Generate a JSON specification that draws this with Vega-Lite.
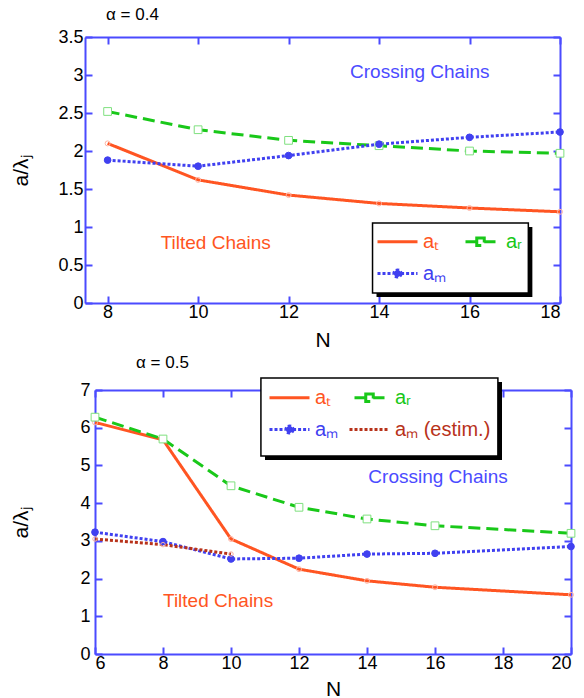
{
  "$schema": "https://vega.github.io/schema/vega-lite/v6.json",
  "padding": {"left": 10, "top": 6, "right": 0, "bottom": 0},
  "spacing": 4,
  "config": {
    "font": "Liberation Sans",
    "view": {"stroke": null},
    "axis": {
      "domainColor": "#4B4BFF", "tickColor": "#4B4BFF", "domainWidth": 2, "tickWidth": 2,
      "tickSize": -7, "grid": false, "labelFontSize": 18, "labelColor": "black",
      "titleFontSize": 21, "titleFontWeight": "normal", "titleColor": "black",
      "labelFont": "Liberation Sans", "titleFont": "Liberation Sans", "labelPadding": 5, "format": "~g"
    },
    "axisX": {"titlePadding": 8},
    "title": {"fontSize": 17, "fontWeight": "normal", "font": "Liberation Sans", "color": "black", "anchor": "start", "frame": "group"}
  },
  "datasets": {
    "top": [
      {"s": "aₜ", "N": 8, "v": 2.10}, {"s": "aₜ", "N": 10, "v": 1.62}, {"s": "aₜ", "N": 12, "v": 1.42},
      {"s": "aₜ", "N": 14, "v": 1.31}, {"s": "aₜ", "N": 16, "v": 1.25}, {"s": "aₜ", "N": 18, "v": 1.20},
      {"s": "aᵣ", "N": 8, "v": 2.52}, {"s": "aᵣ", "N": 10, "v": 2.28}, {"s": "aᵣ", "N": 12, "v": 2.14},
      {"s": "aᵣ", "N": 14, "v": 2.07}, {"s": "aᵣ", "N": 16, "v": 2.00}, {"s": "aᵣ", "N": 18, "v": 1.97},
      {"s": "aₘ", "N": 8, "v": 1.88}, {"s": "aₘ", "N": 10, "v": 1.80}, {"s": "aₘ", "N": 12, "v": 1.94},
      {"s": "aₘ", "N": 14, "v": 2.09}, {"s": "aₘ", "N": 16, "v": 2.18}, {"s": "aₘ", "N": 18, "v": 2.25}
    ],
    "bottom": [
      {"s": "aₜ", "N": 6, "v": 6.14}, {"s": "aₜ", "N": 8, "v": 5.68}, {"s": "aₜ", "N": 10, "v": 3.05},
      {"s": "aₜ", "N": 12, "v": 2.25}, {"s": "aₜ", "N": 14, "v": 1.94}, {"s": "aₜ", "N": 16, "v": 1.77},
      {"s": "aₜ", "N": 20, "v": 1.57},
      {"s": "aᵣ", "N": 6, "v": 6.28}, {"s": "aᵣ", "N": 8, "v": 5.70}, {"s": "aᵣ", "N": 10, "v": 4.46},
      {"s": "aᵣ", "N": 12, "v": 3.89}, {"s": "aᵣ", "N": 14, "v": 3.58}, {"s": "aᵣ", "N": 16, "v": 3.40},
      {"s": "aᵣ", "N": 20, "v": 3.20},
      {"s": "aₘ", "N": 6, "v": 3.23}, {"s": "aₘ", "N": 8, "v": 2.98}, {"s": "aₘ", "N": 10, "v": 2.52},
      {"s": "aₘ", "N": 12, "v": 2.54}, {"s": "aₘ", "N": 14, "v": 2.65}, {"s": "aₘ", "N": 16, "v": 2.67},
      {"s": "aₘ", "N": 20, "v": 2.85},
      {"s": "aₘ (estim.)", "N": 6, "v": 3.05}, {"s": "aₘ (estim.)", "N": 8, "v": 2.90}, {"s": "aₘ (estim.)", "N": 10, "v": 2.65}
    ]
  },
  "resolve": {"scale": {"color": "independent", "strokeDash": "independent", "strokeWidth": "independent", "x": "independent", "y": "independent"}, "legend": {"color": "independent", "strokeDash": "independent", "strokeWidth": "independent"}},
  "vconcat": [
    {
      "width": 465, "height": 266,
      "title": {"text": "α = 0.4", "dx": 11, "offset": 4},
      "data": {"name": "top"},
      "resolve": {"axis": {"x": "independent", "y": "independent"}},
      "layer": [
        {
          "data": {"values": [{}]},
          "mark": {"type": "rect", "fill": "black"},
          "encoding": {
            "x": {"datum": 13.944, "type": "quantitative", "axis": null}, "x2": {"datum": 17.389},
            "y": {"datum": 1.0, "type": "quantitative", "axis": null}, "y2": {"datum": 0.079}
          }
        },
        {
          "data": {"values": [{}]},
          "mark": {"type": "rect", "fill": "white", "stroke": "black", "strokeWidth": 1.5},
          "encoding": {
            "x": {"datum": 13.856, "type": "quantitative", "axis": null}, "x2": {"datum": 17.3},
            "y": {"datum": 1.053, "type": "quantitative", "axis": null}, "y2": {"datum": 0.132}
          }
        },
        {
          "mark": {"type": "line"},
          "encoding": {
            "x": {"field": "N", "type": "quantitative", "scale": {"domain": [7.5, 18], "range": [-10, 465], "nice": false, "zero": false},
                  "axis": {"values": [8, 10, 12, 14, 16, 18], "title": "N", "labelPadding": 7}},
            "y": {"field": "v", "type": "quantitative", "scale": {"domain": [0, 3.5], "nice": false},
                  "axis": {"values": [0, 0.5, 1, 1.5, 2, 2.5, 3, 3.5], "title": "a/λⱼ", "titlePadding": 26, "labelPadding": 9, "offset": 10}},
            "color": {"field": "s", "type": "nominal",
                      "scale": {"domain": ["aₜ", "aᵣ", "aₘ"], "range": ["#FF5522", "#19C819", "#4040F0"]},
                      "legend": {"orient": "none", "legendX": 281, "legendY": 183, "columns": 2, "direction": "horizontal", "title": null,
                                 "zindex": 1,
                                 "labelFontSize": 20, "labelFont": "Liberation Sans", "symbolType": "stroke",
                                 "symbolSize": 1600, "symbolStrokeWidth": 3, "rowPadding": -8, "columnPadding": 12,
                                 "padding": 0, "labelOffset": 4,
                                 "encode": {
                                   "labels": {"update": {"fill": {"signal": "datum.value === 'aₜ' ? '#FF5522' : datum.value === 'aᵣ' ? '#19C819' : datum.value === 'aₘ' ? '#4040F0' : '#B8321A'"}}},
                                   "symbols": {"update": {
                                     "shape": {"signal": "datum.value === 'aᵣ' ? 'M-1,0H-0.25M0.25,0H1M-0.25,-0.25H0.25V0.25H-0.25Z' : datum.value === 'aₘ' ? 'M-1,0H-0.18M0.18,0H1M0.18,0A0.18,0.18,0,1,1,-0.18,0A0.18,0.18,0,1,1,0.18,0Z' : 'stroke'"},
                                     "size": {"signal": "datum.value === 'aᵣ' ? 900 : 1600"},
                                     "fill": {"signal": "datum.value === 'aᵣ' ? 'white' : datum.value === 'aₘ' ? '#4040F0' : 'transparent'"},
                                     "strokeDash": {"signal": "datum.value === 'aᵣ' ? [8, 4] : datum.value === 'aₜ' ? [1, 0] : [3, 2]"},
                                     "opacity": {"value": 1}
                                   }}
                                 }}},
            "strokeDash": {"field": "s", "type": "nominal",
                           "scale": {"domain": ["aₜ", "aᵣ", "aₘ"], "range": [[1, 0], [12, 6], [3, 2]]}},
            "strokeWidth": {"field": "s", "type": "ordinal",
                            "scale": {"domain": ["aₜ", "aᵣ", "aₘ"], "range": [3, 3, 3]}}
          }
        },
        {
          "transform": [{"filter": "datum.s === 'aₜ'"}],
          "mark": {"type": "point", "shape": "circle", "size": 25, "strokeWidth": 1, "stroke": "#FFB5A5", "fill": "transparent", "opacity": 1},
          "encoding": {
            "x": {"field": "N", "type": "quantitative", "axis": {"orient": "top", "labels": false, "title": null, "values": [8, 10, 12, 14, 16, 18]}},
            "y": {"field": "v", "type": "quantitative", "axis": {"orient": "right", "labels": false, "title": null, "values": [0, 0.5, 1, 1.5, 2, 2.5, 3, 3.5]}}
          }
        },
        {
          "transform": [{"filter": "datum.s === 'aᵣ'"}],
          "mark": {"type": "point", "shape": "square", "size": 60, "strokeWidth": 1, "stroke": "#7FE07F", "fill": "white", "opacity": 1},
          "encoding": {
            "x": {"field": "N", "type": "quantitative", "axis": null},
            "y": {"field": "v", "type": "quantitative", "axis": null}
          }
        },
        {
          "transform": [{"filter": "datum.s === 'aₘ'"}],
          "mark": {"type": "point", "shape": "circle", "size": 45, "strokeWidth": 1, "stroke": "#4040F0", "fill": "#4040F0", "opacity": 1},
          "encoding": {
            "x": {"field": "N", "type": "quantitative", "axis": null},
            "y": {"field": "v", "type": "quantitative", "axis": null}
          }
        },
        {
          "data": {"values": [{}]},
          "mark": {"type": "text", "text": "Crossing Chains", "fontSize": 19, "color": "#4B4BFF", "font": "Liberation Sans"},
          "encoding": {"x": {"datum": 14.9, "type": "quantitative", "axis": null}, "y": {"datum": 3.04, "type": "quantitative", "axis": null}}
        },
        {
          "data": {"values": [{}]},
          "mark": {"type": "text", "text": "Tilted Chains", "fontSize": 19, "color": "#FF5522", "font": "Liberation Sans"},
          "encoding": {"x": {"datum": 10.39, "type": "quantitative", "axis": null}, "y": {"datum": 0.79, "type": "quantitative", "axis": null}}
        }
      ]
    },
    {
      "width": 476, "height": 264,
      "title": {"text": "α = 0.5", "dx": 41, "offset": 4},
      "data": {"name": "bottom"},
      "resolve": {"axis": {"x": "independent", "y": "independent"}},
      "layer": [
        {
          "data": {"values": [{}]},
          "mark": {"type": "rect", "fill": "black"},
          "encoding": {
            "x": {"datum": 11.0, "type": "quantitative", "axis": null}, "x2": {"datum": 17.97},
            "y": {"datum": 7.213, "type": "quantitative", "axis": null}, "y2": {"datum": 5.145}
          }
        },
        {
          "data": {"values": [{}]},
          "mark": {"type": "rect", "fill": "white", "stroke": "black", "strokeWidth": 1.5},
          "encoding": {
            "x": {"datum": 10.88, "type": "quantitative", "axis": null}, "x2": {"datum": 17.85},
            "y": {"datum": 7.319, "type": "quantitative", "axis": null}, "y2": {"datum": 5.25}
          }
        },
        {
          "mark": {"type": "line"},
          "encoding": {
            "x": {"field": "N", "type": "quantitative", "scale": {"domain": [6, 20], "nice": false, "zero": false},
                  "axis": {"values": [6, 8, 10, 12, 14, 16, 18, 20], "title": "N", "labelPadding": 7, "titlePadding": 6}},
            "y": {"field": "v", "type": "quantitative", "scale": {"domain": [0, 7], "nice": false},
                  "axis": {"values": [0, 1, 2, 3, 4, 5, 6, 7], "title": "a/λⱼ", "titlePadding": 48, "labelPadding": 12}},
            "color": {"field": "s", "type": "nominal",
                      "scale": {"domain": ["aₜ", "aᵣ", "aₘ", "aₘ (estim.)"], "range": ["#FF5522", "#19C819", "#4040F0", "#B8321A"]},
                      "legend": {"orient": "none", "legendX": 173, "legendY": -14, "columns": 2, "direction": "horizontal", "title": null,
                                 "zindex": 1,
                                 "labelFontSize": 20, "labelFont": "Liberation Sans", "symbolType": "stroke",
                                 "symbolSize": 1600, "symbolStrokeWidth": 3, "rowPadding": -2, "columnPadding": 4,
                                 "padding": 0, "labelOffset": 4,
                                 "encode": {
                                   "labels": {"update": {"fill": {"signal": "datum.value === 'aₜ' ? '#FF5522' : datum.value === 'aᵣ' ? '#19C819' : datum.value === 'aₘ' ? '#4040F0' : '#B8321A'"}}},
                                   "symbols": {"update": {
                                     "shape": {"signal": "datum.value === 'aᵣ' ? 'M-1,0H-0.25M0.25,0H1M-0.25,-0.25H0.25V0.25H-0.25Z' : datum.value === 'aₘ' ? 'M-1,0H-0.18M0.18,0H1M0.18,0A0.18,0.18,0,1,1,-0.18,0A0.18,0.18,0,1,1,0.18,0Z' : 'stroke'"},
                                     "size": {"signal": "datum.value === 'aᵣ' ? 900 : 1600"},
                                     "fill": {"signal": "datum.value === 'aᵣ' ? 'white' : datum.value === 'aₘ' ? '#4040F0' : 'transparent'"},
                                     "strokeDash": {"signal": "datum.value === 'aᵣ' ? [8, 4] : datum.value === 'aₜ' ? [1, 0] : [3, 2]"},
                                     "opacity": {"value": 1}
                                   }}
                                 }}},
            "strokeDash": {"field": "s", "type": "nominal",
                           "scale": {"domain": ["aₜ", "aᵣ", "aₘ", "aₘ (estim.)"], "range": [[1, 0], [12, 6], [3, 2], [3, 2]]}},
            "strokeWidth": {"field": "s", "type": "ordinal",
                            "scale": {"domain": ["aₜ", "aᵣ", "aₘ", "aₘ (estim.)"], "range": [3, 3, 3, 2]}}
          }
        },
        {
          "transform": [{"filter": "datum.s === 'aₜ'"}],
          "mark": {"type": "point", "shape": "circle", "size": 25, "strokeWidth": 1, "stroke": "#FFB5A5", "fill": "transparent", "opacity": 1},
          "encoding": {
            "x": {"field": "N", "type": "quantitative", "axis": {"orient": "top", "labels": false, "title": null, "values": [6, 8, 10, 12, 14, 16, 18, 20]}},
            "y": {"field": "v", "type": "quantitative", "axis": {"orient": "right", "labels": false, "title": null, "values": [0, 1, 2, 3, 4, 5, 6, 7]}}
          }
        },
        {
          "transform": [{"filter": "datum.s === 'aᵣ'"}],
          "mark": {"type": "point", "shape": "square", "size": 60, "strokeWidth": 1, "stroke": "#7FE07F", "fill": "white", "opacity": 1},
          "encoding": {
            "x": {"field": "N", "type": "quantitative", "axis": null},
            "y": {"field": "v", "type": "quantitative", "axis": null}
          }
        },
        {
          "transform": [{"filter": "datum.s === 'aₘ'"}],
          "mark": {"type": "point", "shape": "circle", "size": 45, "strokeWidth": 1, "stroke": "#4040F0", "fill": "#4040F0", "opacity": 1},
          "encoding": {
            "x": {"field": "N", "type": "quantitative", "axis": null},
            "y": {"field": "v", "type": "quantitative", "axis": null}
          }
        },
        {
          "transform": [{"filter": "datum.s === 'aₘ (estim.)'"}],
          "mark": {"type": "point", "shape": "circle", "size": 20, "strokeWidth": 1, "stroke": "#F5B0A0", "fill": "transparent", "opacity": 1},
          "encoding": {
            "x": {"field": "N", "type": "quantitative", "axis": null},
            "y": {"field": "v", "type": "quantitative", "axis": null}
          }
        },
        {
          "data": {"values": [{}]},
          "mark": {"type": "text", "text": "Crossing Chains", "fontSize": 19, "color": "#4B4BFF", "font": "Liberation Sans"},
          "encoding": {"x": {"datum": 16.09, "type": "quantitative", "axis": null}, "y": {"datum": 4.70, "type": "quantitative", "axis": null}}
        },
        {
          "data": {"values": [{}]},
          "mark": {"type": "text", "text": "Tilted Chains", "fontSize": 19, "color": "#FF5522", "font": "Liberation Sans"},
          "encoding": {"x": {"datum": 9.62, "type": "quantitative", "axis": null}, "y": {"datum": 1.41, "type": "quantitative", "axis": null}}
        }
      ]
    }
  ]
}
